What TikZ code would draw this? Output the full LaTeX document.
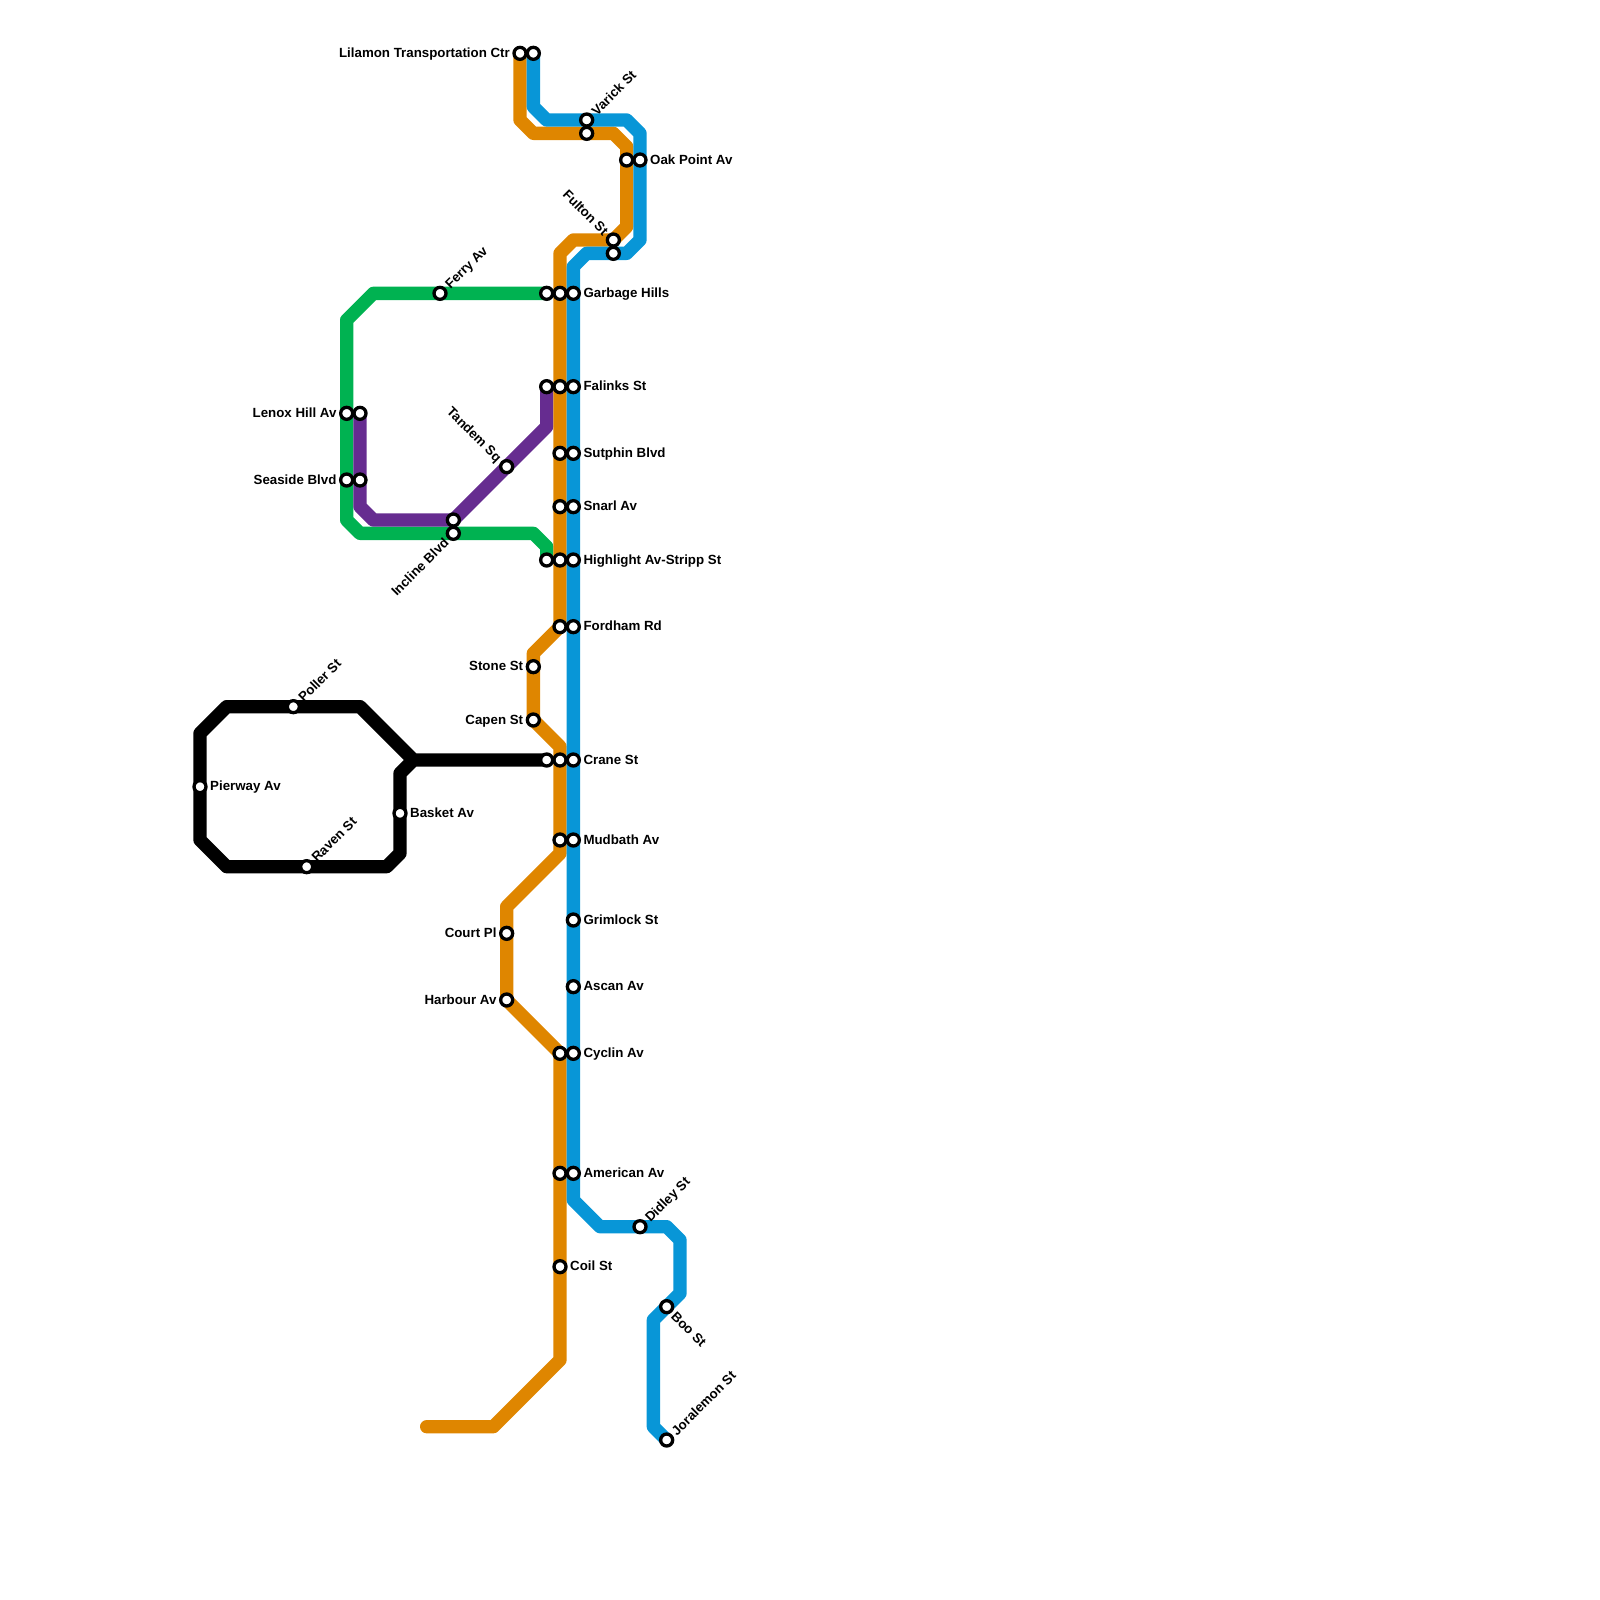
\documentclass[tikz,border=0pt]{standalone}
\usepackage{fontspec}
\setmainfont{Liberation Sans}
\usetikzlibrary{backgrounds}
\definecolor{cblue}{HTML}{0896D7}
\definecolor{corange}{HTML}{DF8600}
\definecolor{cgreen}{HTML}{00B251}
\definecolor{cpurple}{HTML}{662C90}
\newcommand{\stn}[3]{\node[stnode] (#1) at (#2,#3) {};}
\tikzset{
  x=13.3333pt,y=-13.3333pt,
  stnode/.style={circle,draw=black,fill=white,line width=3.3pt,minimum size=12pt,inner sep=0pt},
  metro/.style={line width=13.33pt,line join=round,line cap=round},
  lbl/.style={font=\fontsize{13.3}{15}\selectfont\bfseries,text=black,inner sep=0pt,text height=9.6pt,text depth=0pt},
  lr/.style={lbl,anchor=west,yshift=0.8pt},
  ll/.style={lbl,anchor=east,yshift=0.8pt},
  up/.style={lbl,anchor=west,rotate=45},
  upl/.style={lbl,anchor=east,rotate=-45},
  dnl/.style={lbl,anchor=east,rotate=45},
  dnr/.style={lbl,anchor=west,rotate=-45},
}
\begin{document}
\begin{tikzpicture}
\useasboundingbox (0,0) rectangle (120,120);
% stations
\stn{a1}{39}{4}\stn{a2}{40}{4}
\stn{b1}{44}{9}\stn{b2}{44}{10}
\stn{c1}{47}{12}\stn{c2}{48}{12}
\stn{d1}{46}{18}\stn{d2}{46}{19}
\stn{e1}{41}{22}\stn{e2}{42}{22}\stn{e3}{43}{22}
\stn{f1}{33}{22}
\stn{g1}{41}{29}\stn{g2}{42}{29}\stn{g3}{43}{29}
\stn{h2}{42}{34}\stn{h3}{43}{34}
\stn{i1}{38}{35}
\stn{j2}{42}{38}\stn{j3}{43}{38}
\stn{k1}{34}{39}\stn{k2}{34}{40}
\stn{m1}{41}{42}\stn{m2}{42}{42}\stn{m3}{43}{42}
\stn{n2}{42}{47}\stn{n3}{43}{47}
\stn{o1}{26}{31}\stn{o2}{27}{31}
\stn{p1}{26}{36}\stn{p2}{27}{36}
\stn{q1}{40}{50}\stn{q2}{40}{54}
\stn{r1}{41}{57}\stn{r2}{42}{57}\stn{r3}{43}{57}
\stn{s2}{42}{63}\stn{s3}{43}{63}
\stn{t1}{43}{69}\stn{t2}{43}{74}
\stn{u2}{42}{79}\stn{u3}{43}{79}
\stn{v1}{38}{70}\stn{v2}{38}{75}
\stn{w2}{42}{88}\stn{w3}{43}{88}
\stn{x1}{42}{95}
\stn{y1}{48}{92}\stn{y2}{50}{98}\stn{y3}{50}{108}
\stn{z1}{22}{53}\stn{z2}{23}{65}\stn{z3}{15}{59}\stn{z4}{30}{61}
% lines
\begin{scope}[on background layer]
\coordinate (oend) at (32,107);
\draw[metro,cgreen] (e1.center) -- (28,22) -- (26,24) -- (26,39) -- (27,40) -- (40,40) -- (41,41) -- (m1.center);
\draw[metro,cpurple] (g1.center) -- (41,32) -- (34,39) -- (28,39) -- (27,38) -- (o2.center);
\draw[metro,black] (r1.center) -- (31,57) -- (30,58) -- (30,64) -- (29,65) -- (17,65) -- (15,63) -- (15,55) -- (17,53) -- (27,53) -- (31,57);
\draw[metro,corange] (a1.center) -- (39,9) -- (40,10) -- (46,10) -- (47,11) -- (47,17) -- (46,18) -- (43,18) -- (42,19) -- (42,47) -- (40,49) -- (40,54) -- (42,56) -- (42,64) -- (38,68) -- (38,75) -- (42,79) -- (42,102) -- (37,107) -- (oend);
\draw[metro,cblue] (a2.center) -- (40,8) -- (41,9) -- (47,9) -- (48,10) -- (48,18) -- (47,19) -- (44,19) -- (43,20) -- (43,90) -- (45,92) -- (50,92) -- (51,93) -- (51,97) -- (49,99) -- (49,107) -- (y3.center);
\end{scope}
% labels
\node[ll] (la) at ([xshift=-10pt]a1) {Lilamon Transportation Ctr};
\node[up] (lb) at ([shift={(7pt,7pt)}]b1) {Varick St};
\node[lr] (lc) at ([xshift=10pt]c2) {Oak Point Av};
\node[upl] (ld) at ([shift={(-7pt,7pt)}]d1) {Fulton St};
\node[lr] (le) at ([xshift=10pt]e3) {Garbage Hills};
\node[up] (lf) at ([shift={(7pt,7pt)}]f1) {Ferry Av};
\node[lr] (lg) at ([xshift=10pt]g3) {Falinks St};
\node[lr] (lh) at ([xshift=10pt]h3) {Sutphin Blvd};
\node[upl] (li) at ([shift={(-7pt,7pt)}]i1) {Tandem Sq};
\node[lr] (lj) at ([xshift=10pt]j3) {Snarl Av};
\node[dnl] (lk) at ([shift={(-7pt,-7pt)}]k2) {Incline Blvd};
\node[lr] (lm) at ([xshift=10pt]m3) {Highlight Av-Stripp St};
\node[lr] (ln) at ([xshift=10pt]n3) {Fordham Rd};
\node[ll] (lo) at ([xshift=-10pt]o1) {Lenox Hill Av};
\node[ll] (lp) at ([xshift=-10pt]p1) {Seaside Blvd};
\node[ll] (lq1) at ([xshift=-10pt]q1) {Stone St};
\node[ll] (lq2) at ([xshift=-10pt]q2) {Capen St};
\node[lr] (lr3) at ([xshift=10pt]r3) {Crane St};
\node[lr] (ls) at ([xshift=10pt]s3) {Mudbath Av};
\node[lr] (lt1) at ([xshift=10pt]t1) {Grimlock St};
\node[lr] (lt2) at ([xshift=10pt]t2) {Ascan Av};
\node[lr] (lu) at ([xshift=10pt]u3) {Cyclin Av};
\node[ll] (lv1) at ([xshift=-10pt]v1) {Court Pl};
\node[ll] (lv2) at ([xshift=-10pt]v2) {Harbour Av};
\node[lr] (lw) at ([xshift=10pt]w3) {American Av};
\node[lr] (lx) at ([xshift=10pt]x1) {Coil St};
\node[up] (ly1) at ([shift={(7pt,7pt)}]y1) {Didley St};
\node[dnr] (ly2) at ([shift={(7pt,-7pt)}]y2) {Boo St};
\node[up] (ly3) at ([shift={(7pt,7pt)}]y3) {Joralemon St};
\node[up] (lz1) at ([shift={(7pt,7pt)}]z1) {Poller St};
\node[up] (lz2) at ([shift={(7pt,7pt)}]z2) {Raven St};
\node[lr] (lz3) at ([xshift=10pt]z3) {Pierway Av};
\node[lr] (lz4) at ([xshift=10pt]z4) {Basket Av};
\end{tikzpicture}
\end{document}
